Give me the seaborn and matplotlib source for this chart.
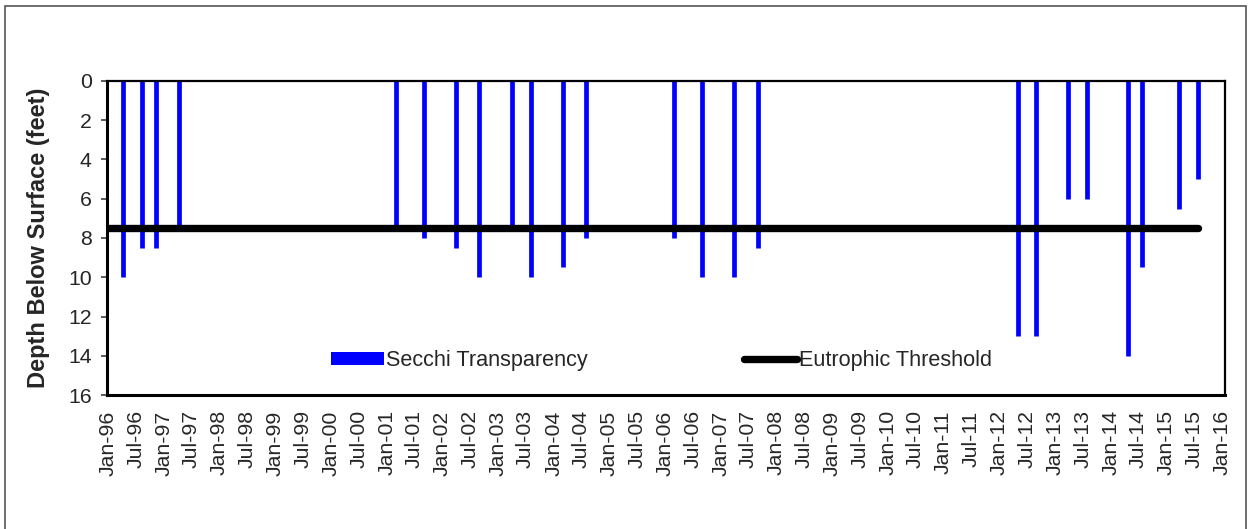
import numpy as np
import pandas as pd
import seaborn as sns
import matplotlib.pyplot as plt
import matplotlib.dates as mdates
from matplotlib.patches import Patch, Rectangle
from matplotlib.lines import Line2D

# Secchi transparency samples (depth below surface, feet)
secchi_dates = ['1996-04-10', '1996-08-09', '1996-11-08', '1997-04-08',
                '2001-03-04', '2001-09-02', '2002-04-02', '2002-08-31',
                '2003-04-03', '2003-08-03', '2004-03-02', '2004-08-02',
                '2006-03-02', '2006-08-30', '2007-03-29', '2007-08-30',
                '2012-05-03', '2012-08-27', '2013-03-27', '2013-07-27',
                '2014-04-22', '2014-07-24', '2015-03-26', '2015-07-24']
secchi_depth = [10.0, 8.5, 8.5, 7.5,
                7.5, 8.0, 8.5, 10.0,
                7.5, 10.0, 9.5, 8.0,
                8.0, 10.0, 10.0, 8.5,
                13.0, 13.0, 6.0, 6.0,
                14.0, 9.5, 6.5, 5.0]

threshold_dates = ['1996-01-01', '2015-07-24']
threshold_depth = [7.5, 7.5]

tick_dates = pd.date_range('1996-01-01', '2016-01-01', freq='6MS')

sns.set_theme(style='white')
plt.rcParams['font.family'] = ['Liberation Sans', 'DejaVu Sans']

secchi = pd.DataFrame({'date': pd.to_datetime(secchi_dates), 'depth': secchi_depth})
thresh = pd.DataFrame({'date': pd.to_datetime(threshold_dates), 'depth': threshold_depth})

fig = plt.figure(figsize=(12.56, 5.29), dpi=100)
ax = fig.add_axes([0.0852, 0.2533, 0.8901, 0.5936])

# bars hang from the surface down to the measured depth
ax.vlines(secchi['date'], 0, secchi['depth'], color='#0000FF', linewidth=3.4,
          capstyle='butt', zorder=2)
sns.lineplot(data=thresh, x='date', y='depth', ax=ax, color='black',
             linewidth=5.3, solid_capstyle='round', zorder=3)

ax.set_ylim(16, 0)
ax.set_yticks(np.arange(0, 17, 2))
ax.set_xlim(pd.Timestamp('1995-12-25'), pd.Timestamp('2016-01-20'))
ax.set_xticks(tick_dates)
ax.xaxis.set_major_formatter(mdates.DateFormatter('%b-%y'))
ax.tick_params(axis='x', labelsize=15.3, rotation=90, length=0, pad=11)
ax.tick_params(axis='y', labelsize=15.3, length=4.5, width=1.2, color='#404040',
               left=True, pad=6.5)
ax.set_xlabel('')
ax.set_ylabel('Depth Below Surface (feet)', fontsize=17, fontweight='bold',
              labelpad=13)

for side in ['left', 'bottom']:
    ax.spines[side].set_linewidth(2.2)
    ax.spines[side].set_color('black')
for side in ['top', 'right']:
    ax.spines[side].set_linewidth(1.6)
    ax.spines[side].set_color('black')

handles = [Patch(facecolor='#0000FF', edgecolor='none'),
           Line2D([0], [0], color='black', linewidth=5.3, solid_capstyle='round')]
ax.legend(handles, ['Secchi Transparency', 'Eutrophic Threshold'], ncol=2,
          loc='center', bbox_to_anchor=(0.496, 0.11), frameon=False,
          fontsize=15.6, handlelength=2.45, handleheight=0.56, handletextpad=0.1,
          columnspacing=7.2)

fig.patches.append(Rectangle((5 / 1256, -0.01), 1241 / 1256, 1 - 6 / 529 + 0.01,
                             transform=fig.transFigure, fill=False,
                             edgecolor='#555555', linewidth=1.2))

fig.savefig('out.png', dpi=100)
